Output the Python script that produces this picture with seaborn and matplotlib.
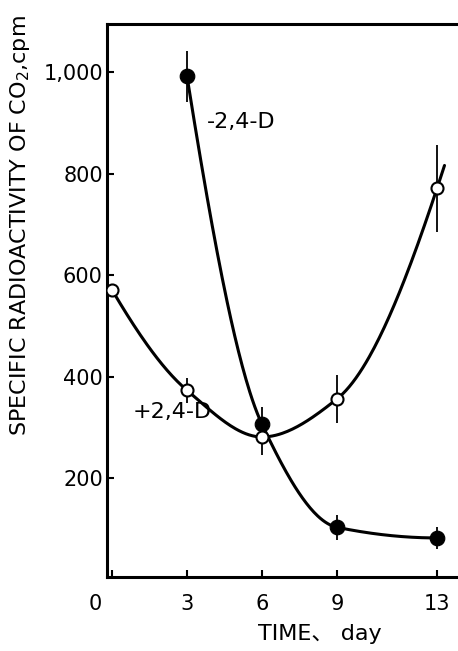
import numpy as np
import pandas as pd
import matplotlib
matplotlib.use("Agg")
import matplotlib.pyplot as plt
import matplotlib.transforms as mtransforms
import seaborn as sns

# -2,4-D  (filled circles)
days_minus = [3, 6, 9, 13]
co2_minus = [992, 306, 103, 82]
err_minus = [50, 35, 25, 22]

# +2,4-D  (open circles)
days_plus = [0, 3, 6, 9, 13]
co2_plus = [571, 373, 281, 356, 771]
err_plus = [0, 25, 35, 48, 85]

x_ticks = [0, 3, 6, 9, 13]
x_tick_labels = ["0", "3", "6", "9", "13"]
y_ticks = [200, 400, 600, 800, 1000]
y_tick_labels = ["200", "400", "600", "800", "1,000"]


def smooth_curve(x, y, xs):
    """monotone cubic (pchip) through the points, like a french curve"""
    x = np.asarray(x, float)
    y = np.asarray(y, float)
    h = np.diff(x)
    s = np.diff(y) / h
    n = len(x)
    d = np.zeros(n)
    for k in range(1, n - 1):
        if s[k - 1] * s[k] > 0:
            w1 = 2 * h[k] + h[k - 1]
            w2 = h[k] + 2 * h[k - 1]
            d[k] = (w1 + w2) / (w1 / s[k - 1] + w2 / s[k])
    d[0] = ((2 * h[0] + h[1]) * s[0] - h[0] * s[1]) / (h[0] + h[1])
    d[-1] = ((2 * h[-1] + h[-2]) * s[-1] - h[-1] * s[-2]) / (h[-1] + h[-2])
    # keep end slopes the same sign as the end segments
    if d[0] * s[0] < 0:
        d[0] = 0
    if d[-1] * s[-1] < 0:
        d[-1] = 0
    idx = np.clip(np.searchsorted(x, xs) - 1, 0, n - 2)
    t = (xs - x[idx]) / h[idx]
    h00 = 2 * t**3 - 3 * t**2 + 1
    h10 = t**3 - 2 * t**2 + t
    h01 = -2 * t**3 + 3 * t**2
    h11 = t**3 - t**2
    return (h00 * y[idx] + h10 * h[idx] * d[idx]
            + h01 * y[idx + 1] + h11 * h[idx] * d[idx + 1])


sns.set_theme(style="ticks")
plt.rcParams['font.family'] = ['DejaVu Sans', 'Noto Sans CJK JP']
plt.rcParams['axes.unicode_minus'] = False
plt.rcParams['text.color'] = 'black'

fig = plt.figure(figsize=(4.58, 6.51), dpi=100)
ax = fig.add_axes([107 / 458, 74 / 651, 351 / 458, 553 / 651])

# smooth curves drawn through the points
xs_plus = np.linspace(days_plus[0], days_plus[-1] + 0.3, 200)
xs_minus = np.linspace(days_minus[0], days_minus[-1], 200)
df_plus = pd.DataFrame({"day": xs_plus, "cpm": smooth_curve(days_plus, co2_plus, xs_plus)})
df_minus = pd.DataFrame({"day": xs_minus, "cpm": smooth_curve(days_minus, co2_minus, xs_minus)})
sns.lineplot(data=df_plus, x="day", y="cpm", color="black", lw=2.2, ax=ax, sort=False, estimator=None)
sns.lineplot(data=df_minus, x="day", y="cpm", color="black", lw=2.2, ax=ax, sort=False, estimator=None)

# error bars
ax.errorbar(days_minus, co2_minus, yerr=err_minus, fmt="none", ecolor="black", elinewidth=1.3, capsize=0, zorder=3)
ax.errorbar(days_plus, co2_plus, yerr=err_plus, fmt="none", ecolor="black", elinewidth=1.3, capsize=0, zorder=3)

# points
sns.scatterplot(x=days_minus, y=co2_minus, color="black", edgecolor="black", s=110, ax=ax, zorder=5)
sns.scatterplot(x=days_plus, y=co2_plus, color="white", edgecolor="black", linewidth=1.5, s=75, ax=ax, zorder=5)

ax.text(3.8, 901, "-2,4-D", fontsize=16, va="center", ha="left", color="black")
ax.text(0.84, 330, "+2,4-D", fontsize=16, va="center", ha="left", color="black")

ax.set_xlim(-0.2, 13.84)
ax.set_ylim(5, 1095)
ax.set_xticks(x_ticks)
ax.set_xticklabels(x_tick_labels)
ax.set_yticks(y_ticks)
ax.set_yticklabels(y_tick_labels)

ax.spines["right"].set_visible(False)
for sp in ["left", "top", "bottom"]:
    ax.spines[sp].set_linewidth(2.2)
    ax.spines[sp].set_color("black")
ax.tick_params(axis="both", direction="in", length=5, width=1.5, labelsize=15, colors="black")
ax.tick_params(axis="x", pad=12)
ax.tick_params(axis="y", pad=3)

# the origin "0" sits a little left of the corner
off = mtransforms.ScaledTranslation(-12 / 72, 0, fig.dpi_scale_trans)
lab0 = ax.get_xticklabels()[0]
lab0.set_transform(lab0.get_transform() + off)

ax.set_xlabel("TIME\u3001 day", fontsize=16, color="black")
ax.xaxis.set_label_coords(0.607, -0.085)
ax.set_ylabel(r"SPECIFIC RADIOACTIVITY OF CO$_2$,cpm", fontsize=16, color="black")
ax.yaxis.set_label_coords(-0.214, 0.635)

ax.set_facecolor("white")
fig.patch.set_facecolor("white")
plt.savefig("out.png", dpi=100, facecolor="white")
plt.close()
